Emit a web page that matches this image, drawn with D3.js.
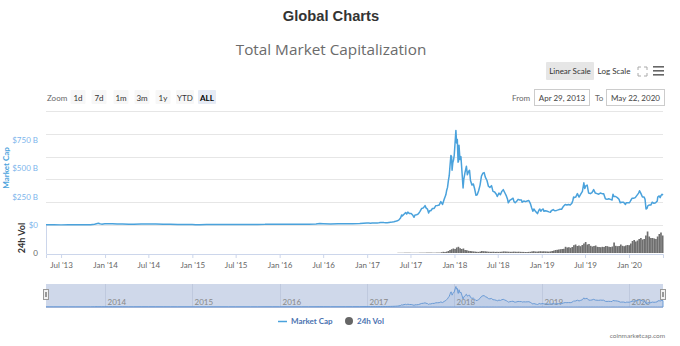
<!DOCTYPE html>
<html><head><meta charset="utf-8">
<script src="https://cdnjs.cloudflare.com/ajax/libs/d3/7.8.5/d3.min.js"></script>
<style>
html,body{margin:0;padding:0;background:#fff;}
svg{display:block;font-family:Lato,"Open Sans",sans-serif;}
</style></head>
<body>
<svg id="chart" width="680" height="346"></svg>
<script>
// ---------- DATA ----------
const chartTitle = "Global Charts";
const chartSubtitle = "Total Market Capitalization";
const zoomButtons = ["1d","7d","1m","3m","1y","YTD","ALL"];
const fromDate = "Apr 29, 2013";
const toDate = "May 22, 2020";
const capTickLabels = ["$0","$250 B","$500 B","$750 B"];
const capTickValues = [0,250,500,750];
const navYears = ["2014","2015","2016","2017","2018","2019","2020"];
const legendItems = ["Market Cap","24h Vol"];

// Total market cap, billions USD
const marketCap = [
["2013-04-29",1.6],["2013-05-15",1.3],["2013-06-01",1.4],["2013-07-01",1.1],["2013-08-01",1.3],["2013-09-01",1.7],["2013-10-01",1.6],["2013-11-01",2.6],["2013-11-18",7.0],["2013-11-30",13.5],["2013-12-04",15.0],["2013-12-10",11.5],["2013-12-18",7.5],["2013-12-31",10.0],
["2014-01-15",11.0],["2014-02-01",11.5],["2014-02-20",8.5],["2014-03-15",8.0],["2014-04-10",5.5],["2014-05-01",6.0],["2014-06-01",8.5],["2014-07-01",8.5],["2014-08-01",8.0],["2014-09-01",6.8],["2014-10-01",5.5],["2014-11-01",4.8],["2014-12-01",5.3],["2014-12-31",4.5],
["2015-01-15",2.9],["2015-02-01",3.2],["2015-03-01",4.0],["2015-04-01",3.6],["2015-05-01",3.5],["2015-06-01",3.5],["2015-07-01",4.0],["2015-08-01",4.4],["2015-09-01",3.8],["2015-10-01",3.7],["2015-11-01",5.8],["2015-11-05",7.0],["2015-12-01",5.8],["2015-12-31",7.0],
["2016-01-15",6.5],["2016-02-01",6.3],["2016-03-01",7.5],["2016-04-01",7.0],["2016-05-01",7.5],["2016-06-01",9.0],["2016-06-17",12.9],["2016-07-01",11.5],["2016-08-01",9.5],["2016-09-01",10.0],["2016-10-01",10.5],["2016-11-01",12.0],["2016-12-01",12.8],["2016-12-31",17.7],
["2017-01-08",16.5],["2017-01-15",15.5],["2017-01-22",16.5],["2017-01-29",17.5],["2017-02-05",18.0],["2017-02-12",18.5],["2017-02-19",19.5],["2017-02-26",21.0],["2017-03-05",22.5],["2017-03-12",21.0],["2017-03-19",20.0],["2017-03-26",20.5],
["2017-04-02",22.5],["2017-04-09",24.5],["2017-04-16",26.0],["2017-04-23",28.5],["2017-04-30",32.0],["2017-05-07",36.5],["2017-05-14",45.0],["2017-05-21",63.0],["2017-05-25",87.0],["2017-05-28",80.0],
["2017-06-04",95.0],["2017-06-11",110.0],["2017-06-15",96.0],["2017-06-20",113.0],["2017-06-27",100.0],["2017-07-04",101.0],["2017-07-11",85.0],["2017-07-16",68.0],["2017-07-20",88.0],["2017-07-27",90.0],
["2017-08-03",97.0],["2017-08-10",120.0],["2017-08-17",145.0],["2017-08-24",150.0],["2017-08-31",170.0],["2017-09-04",150.0],["2017-09-10",140.0],["2017-09-15",105.0],["2017-09-19",125.0],["2017-09-24",125.0],
["2017-10-01",145.0],["2017-10-08",145.0],["2017-10-15",170.0],["2017-10-22",172.0],["2017-10-29",175.0],["2017-11-05",205.0],["2017-11-12",180.0],["2017-11-19",225.0],["2017-11-26",265.0],["2017-11-29",300.0],
["2017-12-03",330.0],["2017-12-07",395.0],["2017-12-10",430.0],["2017-12-13",510.0],["2017-12-17",610.0],["2017-12-20",600.0],["2017-12-22",480.0],["2017-12-25",545.0],["2017-12-28",570.0],["2017-12-31",610.0],
["2018-01-04",735.0],["2018-01-07",830.0],["2018-01-10",720.0],["2018-01-13",750.0],["2018-01-16",550.0],["2018-01-18",560.0],["2018-01-20",700.0],["2018-01-24",575.0],["2018-01-28",600.0],
["2018-02-02",450.0],["2018-02-06",325.0],["2018-02-09",400.0],["2018-02-14",460.0],["2018-02-20",515.0],["2018-02-24",440.0],["2018-03-01",470.0],["2018-03-05",480.0],["2018-03-09",390.0],["2018-03-15",350.0],["2018-03-21",360.0],["2018-03-26",320.0],
["2018-04-01",260.0],["2018-04-06",265.0],["2018-04-12",300.0],["2018-04-18",350.0],["2018-04-24",430.0],["2018-04-30",455.0],["2018-05-05",460.0],["2018-05-10",420.0],["2018-05-17",390.0],["2018-05-23",340.0],["2018-05-29",330.0],
["2018-06-05",345.0],["2018-06-11",295.0],["2018-06-18",290.0],["2018-06-25",270.0],["2018-06-29",250.0],["2018-07-06",280.0],["2018-07-12",265.0],["2018-07-18",295.0],["2018-07-24",310.0],["2018-07-30",285.0],
["2018-08-06",255.0],["2018-08-11",225.0],["2018-08-14",195.0],["2018-08-20",215.0],["2018-08-27",225.0],["2018-09-03",235.0],["2018-09-07",205.0],["2018-09-12",195.0],["2018-09-19",210.0],["2018-09-24",225.0],
["2018-10-01",220.0],["2018-10-08",220.0],["2018-10-11",200.0],["2018-10-18",210.0],["2018-10-25",205.0],["2018-11-01",210.0],["2018-11-08",215.0],["2018-11-14",190.0],["2018-11-20",150.0],["2018-11-25",120.0],["2018-11-29",140.0],
["2018-12-04",125.0],["2018-12-10",110.0],["2018-12-14",100.0],["2018-12-20",130.0],["2018-12-24",140.0],["2018-12-28",120.0],
["2019-01-02",135.0],["2019-01-07",140.0],["2019-01-10",120.0],["2019-01-17",125.0],["2019-01-24",120.0],["2019-01-31",115.0],["2019-02-06",112.0],["2019-02-10",125.0],["2019-02-18",135.0],["2019-02-24",125.0],
["2019-03-04",128.0],["2019-03-11",133.0],["2019-03-18",138.0],["2019-03-25",138.0],["2019-04-02",165.0],["2019-04-09",180.0],["2019-04-16",175.0],["2019-04-23",180.0],["2019-04-30",175.0],
["2019-05-07",190.0],["2019-05-11",215.0],["2019-05-14",245.0],["2019-05-17",240.0],["2019-05-23",245.0],["2019-05-30",275.0],["2019-06-06",245.0],["2019-06-13",270.0],["2019-06-20",295.0],["2019-06-26",370.0],["2019-06-30",320.0],
["2019-07-03",340.0],["2019-07-10",350.0],["2019-07-16",280.0],["2019-07-23",275.0],["2019-07-30",285.0],["2019-08-06",310.0],["2019-08-13",280.0],["2019-08-20",275.0],["2019-08-27",270.0],
["2019-09-03",280.0],["2019-09-10",275.0],["2019-09-17",275.0],["2019-09-24",230.0],["2019-10-01",225.0],["2019-10-08",230.0],["2019-10-15",225.0],["2019-10-22",220.0],["2019-10-26",270.0],["2019-10-30",250.0],
["2019-11-06",250.0],["2019-11-13",240.0],["2019-11-20",225.0],["2019-11-25",195.0],["2019-12-02",200.0],["2019-12-09",200.0],["2019-12-17",180.0],["2019-12-20",195.0],["2019-12-27",195.0],
["2020-01-03",195.0],["2020-01-08",215.0],["2020-01-14",235.0],["2020-01-20",235.0],["2020-01-27",240.0],["2020-02-03",260.0],["2020-02-10",280.0],["2020-02-14",300.0],["2020-02-20",275.0],["2020-02-26",245.0],
["2020-03-04",245.0],["2020-03-08",225.0],["2020-03-12",140.0],["2020-03-16",145.0],["2020-03-20",170.0],["2020-03-26",175.0],["2020-04-01",175.0],["2020-04-07",200.0],["2020-04-14",190.0],["2020-04-21",195.0],
["2020-04-28",210.0],["2020-04-30",245.0],["2020-05-06",255.0],["2020-05-10",240.0],["2020-05-14",260.0],["2020-05-18",270.0],["2020-05-22",262.0]
];

// 24h volume, billions USD (weekly)
const volume24h = [
["2017-05-07",2],["2017-06-04",3],["2017-07-02",2],["2017-08-06",3],["2017-09-03",4],["2017-10-01",3],["2017-10-15",4],
["2017-11-05",8],["2017-11-12",12],["2017-11-19",10],["2017-11-26",14],["2017-12-03",20],["2017-12-10",30],["2017-12-17",38],["2017-12-24",45],["2017-12-31",40],
["2018-01-07",55],["2018-01-14",62],["2018-01-21",48],["2018-01-28",40],["2018-02-04",45],["2018-02-11",30],["2018-02-18",28],["2018-02-25",22],["2018-03-04",20],["2018-03-11",18],["2018-03-18",16],["2018-03-25",14],
["2018-04-01",12],["2018-04-08",11],["2018-04-15",14],["2018-04-22",20],["2018-04-29",18],["2018-05-06",17],["2018-05-13",15],["2018-05-20",13],["2018-05-27",12],["2018-06-03",12],["2018-06-10",13],["2018-06-17",11],["2018-06-24",12],
["2018-07-01",11],["2018-07-08",12],["2018-07-15",13],["2018-07-22",16],["2018-07-29",15],["2018-08-05",14],["2018-08-12",13],["2018-08-19",12],["2018-08-26",12],["2018-09-02",14],["2018-09-09",13],["2018-09-16",12],["2018-09-23",13],["2018-09-30",12],
["2018-10-07",11],["2018-10-14",11],["2018-10-21",10],["2018-10-28",10],["2018-11-04",11],["2018-11-11",12],["2018-11-18",16],["2018-11-25",18],["2018-12-02",15],["2018-12-09",14],["2018-12-16",16],["2018-12-23",18],["2018-12-30",16],
["2019-01-06",17],["2019-01-13",16],["2019-01-20",15],["2019-01-27",14],["2019-02-03",16],["2019-02-10",20],["2019-02-17",24],["2019-02-24",30],["2019-03-03",32],["2019-03-10",35],["2019-03-17",38],["2019-03-24",40],["2019-03-31",42],
["2019-04-07",62],["2019-04-14",55],["2019-04-21",58],["2019-04-28",52],["2019-05-05",60],["2019-05-12",78],["2019-05-19",85],["2019-05-26",70],["2019-06-02",75],["2019-06-09",68],["2019-06-16",80],["2019-06-23",95],["2019-06-30",110],
["2019-07-07",85],["2019-07-14",90],["2019-07-21",72],["2019-07-28",65],["2019-08-04",70],["2019-08-11",75],["2019-08-18",62],["2019-08-25",60],["2019-09-01",58],["2019-09-08",62],["2019-09-15",60],["2019-09-22",70],["2019-09-29",68],
["2019-10-06",62],["2019-10-13",60],["2019-10-20",65],["2019-10-27",105],["2019-11-03",72],["2019-11-10",68],["2019-11-17",70],["2019-11-24",85],["2019-12-01",72],["2019-12-08",68],["2019-12-15",75],["2019-12-22",80],["2019-12-29",78],
["2020-01-05",95],["2020-01-12",120],["2020-01-19",130],["2020-01-26",115],["2020-02-02",125],["2020-02-09",140],["2020-02-16",150],["2020-02-23",135],["2020-03-01",140],["2020-03-08",175],["2020-03-15",215],["2020-03-22",165],["2020-03-29",150],
["2020-04-05",150],["2020-04-12",145],["2020-04-19",140],["2020-04-26",165],["2020-05-03",190],["2020-05-10",205],["2020-05-17",175]
];

// ---------- SETUP ----------
const parse = d3.timeParse("%Y-%m-%d");
const capData = marketCap.map(d => ({date: parse(d[0]), v: d[1]}));
const volData = volume24h.map(d => ({date: parse(d[0]), v: d[1]}));
const svg = d3.select("#chart");

const x = d3.scaleTime().domain([parse("2013-04-29"), parse("2020-05-22")]).range([46, 663]);
const yCap = d3.scaleLinear().domain([0, 1000]).range([225, 111]);
const yVol = d3.scaleLinear().domain([0, 270]).range([253, 226]);
const yNav = d3.scaleLinear().domain([0, 850]).range([307, 286]);

const blue = "#4aa2dc";

// Titles
svg.append("text").attr("x", 331).attr("y", 21).attr("text-anchor","middle")
  .attr("font-family","'Liberation Sans',Arial,sans-serif").attr("font-weight","bold")
  .attr("font-size", 14.7).attr("fill","#333").text(chartTitle);
svg.append("text").attr("x", 331).attr("y", 55).attr("text-anchor","middle")
  .attr("font-family","'Open Sans',sans-serif")
  .attr("font-size", 15.3).attr("fill","#6b6b6b").text(chartSubtitle);

// Scale buttons
svg.append("rect").attr("x",546).attr("y",62).attr("width",48).attr("height",18).attr("fill","#e6e6e6").attr("rx",1);
svg.append("text").attr("x",570).attr("y",74).attr("text-anchor","middle").attr("font-size",8).attr("fill","#333").text("Linear Scale");
svg.append("text").attr("x",614).attr("y",74).attr("text-anchor","middle").attr("font-size",8).attr("fill","#333").text("Log Scale");
// fullscreen icon
const fs = svg.append("g").attr("stroke","#aaa").attr("stroke-width",1).attr("fill","none");
[[638,67,1,1],[647,67,-1,1],[638,76,1,-1],[647,76,-1,-1]].forEach(([cx,cy,dx,dy])=>{
  fs.append("path").attr("d",`M${cx},${cy+3*dy} L${cx},${cy} L${cx+3*dx},${cy}`);
});
// menu icon
[66,70,74].forEach(yy=> svg.append("rect").attr("x",653).attr("y",yy).attr("width",11).attr("height",1.6).attr("fill","#666"));

// Zoom buttons
svg.append("text").attr("x",47).attr("y",101).attr("font-size",8).attr("fill","#666").text("Zoom");
const zb = svg.append("g");
const zoomX = [78,99,121,142,163,185,207];
zoomButtons.forEach((b,i)=>{
  const w = b.length>2 ? 18 : 15;
  zb.append("rect").attr("x",zoomX[i]-w/2).attr("y",90).attr("width",w).attr("height",14)
    .attr("fill", b==="ALL" ? "#e6ebf5" : "#f7f7f7").attr("rx",1);
  zb.append("text").attr("x",zoomX[i]).attr("y",101).attr("text-anchor","middle").attr("font-size",8)
    .attr("font-weight", b==="ALL" ? "bold":"normal").attr("fill", b==="ALL" ? "#000":"#333").text(b);
});

// Date inputs
svg.append("text").attr("x",512).attr("y",101).attr("font-size",8).attr("fill","#666").text("From");
svg.append("rect").attr("x",534.5).attr("y",89.5).attr("width",55).attr("height",16).attr("fill","#fff").attr("stroke","#ccc");
svg.append("text").attr("x",562).attr("y",101).attr("text-anchor","middle").attr("font-size",8).attr("fill","#444").text(fromDate);
svg.append("text").attr("x",595).attr("y",101).attr("font-size",8).attr("fill","#666").text("To");
svg.append("rect").attr("x",606.5).attr("y",89.5).attr("width",58).attr("height",16).attr("fill","#fff").attr("stroke","#ccc");
svg.append("text").attr("x",635.5).attr("y",101).attr("text-anchor","middle").attr("font-size",8).attr("fill","#444").text(toDate);

// Gridlines (cap pane)
const grid = svg.append("g");
yCap.ticks(4).forEach(t=>{
  grid.append("line").attr("x1",46).attr("x2",663).attr("y1",Math.round(yCap(t))+0.5).attr("y2",Math.round(yCap(t))+0.5)
    .attr("stroke","#e6e6e6").attr("stroke-width",1);
});
// cap axis labels
capTickValues.forEach((t,i)=>{
  svg.append("text").attr("x",38).attr("y",yCap(t)+3).attr("text-anchor","end").attr("font-size",8)
    .attr("fill","#7cb5ec").text(capTickLabels[i]);
});
svg.append("text").attr("transform","translate(9,168) rotate(-90)").attr("text-anchor","middle")
  .attr("font-size",8).attr("font-weight","bold").attr("fill","#4aa2dc").text("Market Cap");

// Volume pane
svg.append("line").attr("x1",46.5).attr("x2",46.5).attr("y1",225).attr("y2",254).attr("stroke","#ccd6eb");
svg.append("text").attr("x",38).attr("y",yVol(0)+3).attr("text-anchor","end").attr("font-size",8).attr("fill","#666").text("0");
svg.append("text").attr("transform","translate(25,238) rotate(-90)").attr("text-anchor","middle")
  .attr("font-size",9).attr("font-weight","bold").attr("fill","#333").text("24h Vol");

svg.append("g").selectAll("rect").data(volData).join("rect")
  .attr("x", d=>x(d.date))
  .attr("width", (d,i)=> i<volData.length-1 ? Math.max(0.8, x(volData[i+1].date)-x(d.date)) : 1.7)
  .attr("y", d=>yVol(d.v)).attr("height", d=>yVol(0)-yVol(d.v))
  .attr("fill","#6e6e6e");

// X axis
const xAxis = d3.axisBottom(x)
  .tickValues(d3.timeMonth.every(6).range(parse("2013-07-01"), parse("2020-05-22")))
  .tickFormat(d => d3.timeFormat("%b '%y")(d)).tickSize(4).tickPadding(4);
const gx = svg.append("g").attr("transform","translate(0,254)").call(xAxis);
gx.select(".domain").attr("stroke","#ccd6eb");
gx.selectAll(".tick line").attr("stroke","#ccd6eb");
gx.selectAll("text").attr("font-size",8).attr("fill","#666").attr("font-family","Lato,sans-serif");

// Cap line
svg.append("path").datum(capData)
  .attr("d", d3.line().x(d=>x(d.date)).y(d=>yCap(d.v)))
  .attr("fill","none").attr("stroke",blue).attr("stroke-width",1.5).attr("stroke-linejoin","round");

// Navigator
svg.append("rect").attr("x",46).attr("y",284).attr("width",617).attr("height",24).attr("fill","#cfd8ea");
navYears.forEach(yr=>{
  const xx = Math.round(x(parse(yr+"-01-01")))+0.5;
  svg.append("line").attr("x1",xx).attr("x2",xx).attr("y1",284).attr("y2",308).attr("stroke","#bfc9de");
  svg.append("text").attr("x",xx+2).attr("y",305).attr("font-size",8).attr("fill","#888").text(yr);
});
svg.append("path").datum(capData)
  .attr("d", d3.area().x(d=>x(d.date)).y0(yNav(0)).y1(d=>yNav(d.v)))
  .attr("fill","rgba(100,150,210,0.12)").attr("stroke","#6a9bd6").attr("stroke-width",1);
svg.append("line").attr("x1",46).attr("x2",663).attr("y1",307.5).attr("y2",307.5).attr("stroke","#9fb4d8");
// handles
[44,661].forEach(hx=>{
  svg.append("rect").attr("x",hx-0.5).attr("y",289.5).attr("width",5).attr("height",10).attr("fill","#f2f2f2").attr("stroke","#999");
  svg.append("line").attr("x1",hx+1.5).attr("x2",hx+1.5).attr("y1",292).attr("y2",297).attr("stroke","#999");
  svg.append("line").attr("x1",hx+2.5).attr("x2",hx+2.5).attr("y1",292).attr("y2",297).attr("stroke","#999");
});

// Legend
svg.append("line").attr("x1",278).attr("x2",287).attr("y1",321.5).attr("y2",321.5).attr("stroke",blue).attr("stroke-width",1.5);
svg.append("text").attr("x",291).attr("y",324).attr("font-size",8).attr("font-weight","bold").attr("fill","#4a72b0").text(legendItems[0]);
svg.append("circle").attr("cx",349).attr("cy",321).attr("r",4).attr("fill","#666");
svg.append("text").attr("x",357).attr("y",324).attr("font-size",8).attr("font-weight","bold").attr("fill","#4a72b0").text(legendItems[1]);

// Credit
svg.append("text").attr("x",665).attr("y",338).attr("text-anchor","end").attr("font-size",6.5).attr("fill","#777").text("coinmarketcap.com");
</script>
</body></html>
